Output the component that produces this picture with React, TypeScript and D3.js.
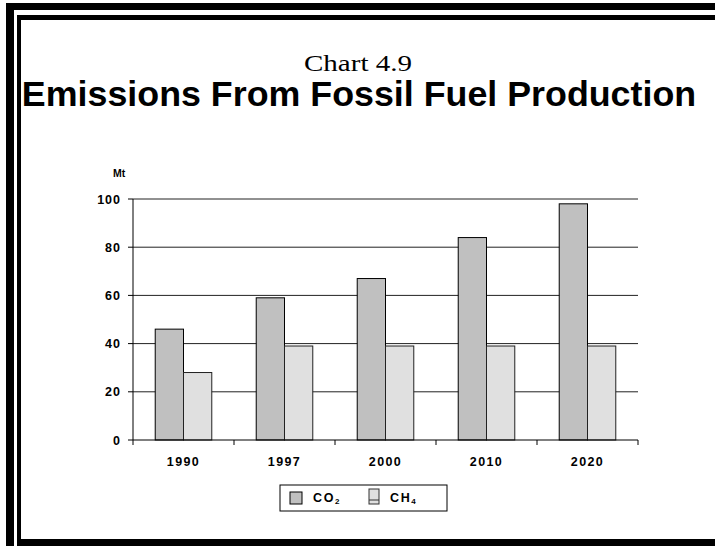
import React from "react";
import * as d3 from "d3";

const years = ["1990", "1997", "2000", "2010", "2020"];
const co2 = [46, 59, 67, 84, 98];
const ch4 = [28, 39, 39, 39, 39];
const yTicks = [0, 20, 40, 60, 80, 100];
const seriesKeys = ["CO2", "CH4"];

const W = 715;
const H = 546;
const plot = { left: 133, right: 638, top: 199, bottom: 440 };

export default function App() {
  const x0 = d3.scaleBand<string>().domain(years).range([plot.left, plot.right]).padding(0);
  const step = x0.bandwidth();
  const x1 = d3.scaleBand<string>().domain(seriesKeys).range([step * 0.22, step * 0.78]).padding(0);
  const y = d3.scaleLinear().domain([0, 100]).range([plot.bottom, plot.top]);

  const fills: Record<string, string> = { CO2: "#c0c0c0", CH4: "#e0e0e0" };
  const strokes: Record<string, string> = { CO2: "#000", CH4: "#222" };
  const values: Record<string, number[]> = { CO2: co2, CH4: ch4 };

  const boundaries = years.map((yr) => x0(yr) as number).concat([plot.right]);
  const tickFont = "Arial, 'Liberation Sans', sans-serif";

  return (
    <svg width={W} height={H} style={{ position: "absolute", left: 0, top: 0, background: "#fff" }}>
      {/* frame */}
      <rect x={6} y={3} width={8} height={H - 3} fill="#000" />
      <rect x={6} y={3} width={W - 6} height={7} fill="#000" />
      <rect x={17} y={15} width={4} height={H - 15} fill="#000" />
      <rect x={17} y={15} width={W - 17} height={5} fill="#000" />
      <rect x={17} y={539} width={W - 17} height={7} fill="#000" />

      {/* titles */}
      <text
        x={358}
        y={71}
        textAnchor="middle"
        fontFamily="'Times New Roman', 'Liberation Serif', serif"
        fontSize={24}
        textLength={108}
        lengthAdjust="spacingAndGlyphs"
      >
        Chart 4.9
      </text>
      <text x={359} y={106} textAnchor="middle" fontFamily={tickFont} fontWeight="bold" fontSize={35.8}>
        Emissions From Fossil Fuel Production
      </text>

      {/* gridlines */}
      {yTicks.filter((t) => t > 0).map((t) => (
        <line key={t} x1={plot.left} x2={plot.right} y1={y(t)} y2={y(t)} stroke="#222" strokeWidth={1} />
      ))}

      {/* bars */}
      {years.map((yr, i) => (
        <g key={yr} transform={`translate(${x0(yr)},0)`}>
          {seriesKeys.map((k) => (
            <rect
              key={k}
              x={x1(k)}
              y={y(values[k][i])}
              width={x1.bandwidth()}
              height={y(0) - y(values[k][i])}
              fill={fills[k]}
              stroke={strokes[k]}
              strokeWidth={1}
            />
          ))}
        </g>
      ))}

      {/* axes */}
      <line x1={plot.left} x2={plot.left} y1={plot.top} y2={plot.bottom} stroke="#000" />
      <line x1={plot.left} x2={plot.right} y1={plot.bottom} y2={plot.bottom} stroke="#000" />
      {yTicks.map((t) => (
        <g key={t}>
          <line x1={plot.left - 5} x2={plot.left} y1={y(t)} y2={y(t)} stroke="#000" />
          <text
            x={121}
            y={y(t)}
            dy="0.36em"
            textAnchor="end"
            fontFamily={tickFont}
            fontWeight="bold"
            fontSize={12.5}
            letterSpacing={1}
          >
            {t}
          </text>
        </g>
      ))}
      {boundaries.map((bx, i) => (
        <line key={i} x1={bx} x2={bx} y1={plot.bottom} y2={plot.bottom + 5} stroke="#000" />
      ))}
      {years.map((yr) => (
        <text
          key={yr}
          x={(x0(yr) as number) + step / 2}
          y={466}
          textAnchor="middle"
          fontFamily={tickFont}
          fontWeight="bold"
          fontSize={12.5}
          letterSpacing={1.4}
        >
          {yr}
        </text>
      ))}
      <text x={113} y={177} fontFamily={tickFont} fontWeight="bold" fontSize={10.5}>
        Mt
      </text>

      {/* legend */}
      <rect x={280} y={485} width={167} height={26} fill="#fff" stroke="#000" />
      <rect x={290} y={492} width={12} height={12} fill={fills.CO2} stroke="#000" />
      <text x={313} y={502} fontFamily={tickFont} fontWeight="bold" fontSize={12.5} letterSpacing={1.6}>
        CO
        <tspan fontSize={8} dy={2}>2</tspan>
      </text>
      <rect x={369} y={489} width={10} height={15} fill={fills.CH4} stroke="#333" />
      <line x1={369} x2={379} y1={500} y2={500} stroke="#333" />
      <text x={390} y={502} fontFamily={tickFont} fontWeight="bold" fontSize={12.5} letterSpacing={1.6}>
        CH
        <tspan fontSize={8} dy={2}>4</tspan>
      </text>
    </svg>
  );
}
